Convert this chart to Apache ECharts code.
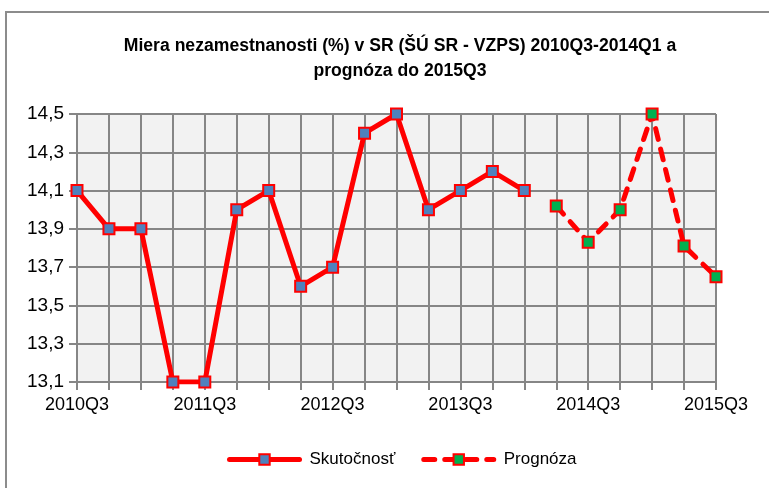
<!DOCTYPE html>
<html>
<head>
<meta charset="utf-8">
<script src="https://cdn.jsdelivr.net/npm/echarts@6/dist/echarts.min.js"></script>
<style>
  html, body { margin: 0; padding: 0; background: #fff; }
  #chart { width: 769px; height: 488px; }
</style>
</head>
<body>
<div id="chart"></div>
<script>
// štvrťroky 2010Q3 - 2015Q3
const quarters = [
  "2010Q3", "2010Q4", "2011Q1", "2011Q2", "2011Q3", "2011Q4", "2012Q1",
  "2012Q2", "2012Q3", "2012Q4", "2013Q1", "2013Q2", "2013Q3", "2013Q4",
  "2014Q1", "2014Q2", "2014Q3", "2014Q4", "2015Q1", "2015Q2", "2015Q3"
];
// skutočnosť (VZPS)
const actual = [
  14.1, 13.9, 13.9, 13.1, 13.1, 14.0, 14.1, 13.6, 13.7, 14.4, 14.5,
  14.0, 14.1, 14.2, 14.1, null, null, null, null, null, null
];
// prognóza
const forecast = [
  null, null, null, null, null, null, null, null, null, null, null,
  null, null, null, null, 14.02, 13.83, 14.0, 14.5, 13.81, 13.65
];
const yMin = 13.1, yMax = 14.5, yStep = 0.2;

const font = "Liberation Sans";
const gridColor = "#868686";

const chart = echarts.init(document.getElementById("chart"));
chart.setOption({
  animation: false,
  textStyle: { fontFamily: font },
  title: {
    text: "Miera nezamestnanosti (%) v SR (ŠÚ SR - VZPS) 2010Q3-2014Q1 a\nprognóza do 2015Q3",
    left: 395,
    textAlign: "center",
    top: 29,
    textStyle: {
      fontFamily: font,
      fontSize: 17.6,
      fontWeight: "bold",
      color: "#000",
      lineHeight: 25
    }
  },
  graphic: [{
    type: "rect",
    shape: { x: 6, y: 12, width: 800, height: 520 },
    style: { fill: null, stroke: "#8c8c8c", lineWidth: 2 },
    silent: true
  }],
  grid: {
    left: 77, right: 53, top: 114, bottom: 106,
    show: true, backgroundColor: "#f2f2f2", borderWidth: 0
  },
  legend: {
    bottom: 15,
    left: 222,
    itemWidth: 70,
    itemHeight: 13,
    itemGap: 26,
    lineStyle: { width: 5, cap: "round" },
    textStyle: { fontFamily: font, fontSize: 17, color: "#000", padding: [0, 0, 0, 5] },
    data: ["Skutočnosť", "Prognóza"]
  },
  xAxis: {
    type: "category",
    data: quarters,
    boundaryGap: false,
    axisLine: { lineStyle: { color: gridColor, width: 2 } },
    axisTick: { show: true, interval: 0, length: 8, lineStyle: { color: gridColor, width: 2 } },
    splitLine: { show: true, interval: 0, lineStyle: { color: gridColor, width: 2 } },
    axisLabel: { interval: 3, margin: 14, fontFamily: font, fontSize: 18, color: "#000" }
  },
  yAxis: {
    type: "value",
    min: yMin,
    max: yMax,
    interval: yStep,
    axisLine: { show: true, lineStyle: { color: gridColor, width: 2 } },
    axisTick: { show: true, length: 8, lineStyle: { color: gridColor, width: 2 } },
    splitLine: { show: true, lineStyle: { color: gridColor, width: 2 } },
    axisLabel: {
      margin: 13,
      fontFamily: font,
      fontSize: 19,
      color: "#000",
      formatter: (v) => v.toFixed(1).replace(".", ",")
    }
  },
  series: [
    {
      name: "Skutočnosť",
      type: "line",
      data: actual,
      symbol: "rect",
      symbolSize: 11,
      lineStyle: { color: "#ff0000", width: 5 },
      itemStyle: { color: "#4f81bd", borderColor: "#ff0000", borderWidth: 2 },
      z: 3
    },
    {
      name: "Prognóza",
      type: "line",
      data: forecast,
      symbol: "rect",
      symbolSize: 11,
      lineStyle: { color: "#ff0000", width: 5, type: [11, 10], cap: "round" },
      itemStyle: { color: "#00b050", borderColor: "#ff0000", borderWidth: 2 },
      z: 3
    }
  ]
});
</script>
</body>
</html>
